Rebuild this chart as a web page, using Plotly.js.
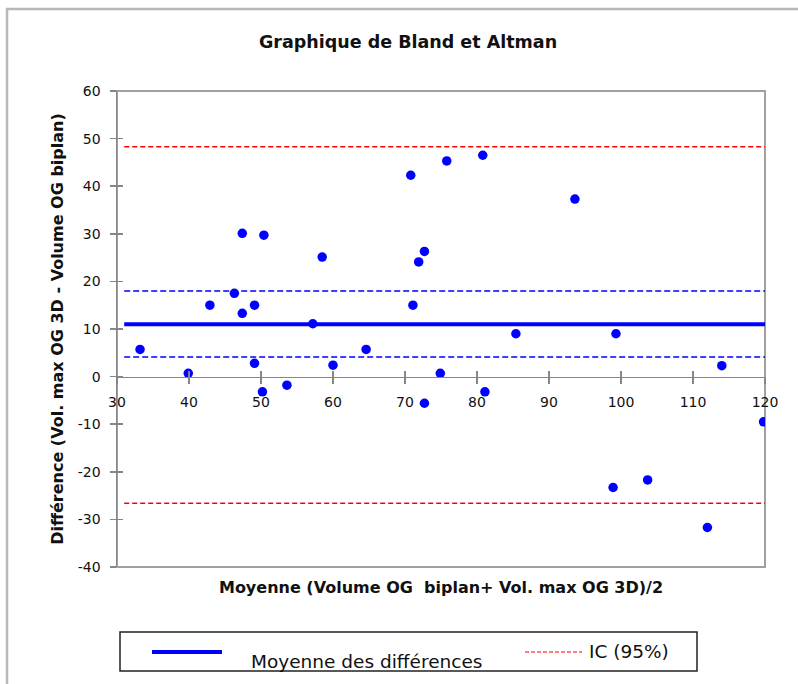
<!DOCTYPE html>
<html>
<head>
<meta charset="utf-8">
<script src="https://cdn.plot.ly/plotly-3.0.1.min.js"></script>
<style>html,body{margin:0;padding:0;background:#fff;}#chart{width:798px;height:684px;}</style>
</head>
<body>
<div id="chart"></div>
<script>
// ---- Data ----
const meanX = [33.2, 39.9, 42.9, 46.3, 47.4, 47.4, 49.1, 49.1, 50.4, 50.2, 53.6, 57.2, 58.5, 60.0, 64.6, 70.8,
               71.1, 71.9, 72.7, 72.7, 74.9, 75.8, 80.8, 81.1, 93.6, 85.4, 99.3, 114.0, 119.8, 98.9, 103.7, 112.0];
const diffY = [5.7, 0.7, 15.0, 17.5, 30.1, 13.3, 15.0, 2.8, 29.7, -3.2, -1.8, 11.1, 25.1, 2.4, 5.7, 42.3,
               15.0, 24.1, 26.3, -5.6, 0.7, 45.3, 46.5, -3.2, 37.3, 9.0, 9.0, 2.3, -9.5, -23.3, -21.7, -31.7];
const lineX = [31, 120];
const meanDiff = 11.0;
const ciMeanLow = 4.1;
const ciMeanHigh = 18.0;
const icLow = -26.6;
const icHigh = 48.3;
const xTicks = [30, 40, 50, 60, 70, 80, 90, 100, 110, 120];
const yTicks = [-40, -30, -20, -10, 0, 10, 20, 30, 40, 50, 60];

const titleText = "Graphique de Bland et Altman";
const xTitle = "Moyenne (Volume OG  biplan+ Vol. max OG 3D)/2";
const yTitle = "Différence (Vol. max OG 3D - Volume OG biplan)";
const legendMean = "Moyenne des différences";
const legendIC = "IC (95%)";

// ---- Layout helpers ----
const W = 798, H = 684;
const M = {l: 117, r: 33, t: 91, b: 117};
const PW = W - M.l - M.r, PH = H - M.t - M.b;
const px = x => (x - M.l) / PW;
const py = y => (H - M.b - y) / PH;

const FONT = "DejaVu Sans";
const blue = "#0000ff", red = "#ff0000", axisGray = "#868686";

const traces = [
  {x: lineX, y: [icHigh, icHigh], mode: "lines", name: legendIC, showlegend: false,
   line: {color: red, width: 1.5, dash: "5px,3px"}, hoverinfo: "skip"},
  {x: lineX, y: [icLow, icLow], mode: "lines", name: legendIC, showlegend: false,
   line: {color: red, width: 1.5, dash: "5px,3px"}, hoverinfo: "skip"},
  {x: lineX, y: [ciMeanHigh, ciMeanHigh], mode: "lines", showlegend: false,
   line: {color: blue, width: 1.5, dash: "6px,3px"}, hoverinfo: "skip"},
  {x: lineX, y: [ciMeanLow, ciMeanLow], mode: "lines", showlegend: false,
   line: {color: blue, width: 1.5, dash: "6px,3px"}, hoverinfo: "skip"},
  {x: lineX, y: [meanDiff, meanDiff], mode: "lines", name: legendMean, showlegend: false,
   line: {color: blue, width: 4}, hoverinfo: "skip"},
  {x: meanX, y: diffY, mode: "markers", showlegend: false,
   marker: {color: blue, size: 9.5}},
  // dummy traces to materialise helper axes (cross ticks / bottom title)
  {x: [null], y: [null], xaxis: "x2", yaxis: "y", showlegend: false, hoverinfo: "skip"},
  {x: [null], y: [null], xaxis: "x3", yaxis: "y", showlegend: false, hoverinfo: "skip"},
  {x: [null], y: [null], xaxis: "x", yaxis: "y2", showlegend: false, hoverinfo: "skip"}
];

const tickFont = {family: FONT, size: 14, color: "#111"};
const xRange = [30, 120], yRange = [-40, 60];
const xZeroPos = (0 - yRange[0]) / (yRange[1] - yRange[0]);

const layout = {
  width: W, height: H,
  margin: M,
  paper_bgcolor: "#fff", plot_bgcolor: "#fff",
  showlegend: false,
  title: {text: titleText, font: {family: FONT, size: 17.5, weight: "bold", color: "#111"},
          x: 408 / W, xanchor: "center", xref: "container", y: 1 - 42 / H, yanchor: "middle", yref: "container"},
  xaxis: {range: xRange, tickvals: xTicks, ticktext: xTicks.map(String), anchor: "free", position: xZeroPos,
          showline: true, linecolor: axisGray, linewidth: 1.5, ticks: "outside", ticklen: 6, tickcolor: axisGray,
          tickwidth: 1.5, showgrid: false, zeroline: false, tickfont: tickFont, ticklabelstandoff: 6, fixedrange: true},
  xaxis2: {range: xRange, tickvals: xTicks, overlaying: "x", anchor: "free", position: xZeroPos,
           showline: false, ticks: "inside", ticklen: 6, tickcolor: axisGray, tickwidth: 1.5,
           showticklabels: false, showgrid: false, zeroline: false, fixedrange: true},
  xaxis3: {range: xRange, overlaying: "x", anchor: "y", side: "bottom", showline: false, ticks: "",
           showticklabels: false, showgrid: false, zeroline: false, fixedrange: true,
           title: {text: xTitle, font: {family: FONT, size: 16, weight: "bold", color: "#111"}, standoff: 14}},
  yaxis: {range: yRange, tickvals: yTicks, ticktext: yTicks.map(String), anchor: "x",
          showline: true, linecolor: axisGray, linewidth: 1.5, ticks: "outside", ticklen: 6, tickcolor: axisGray,
          tickwidth: 1.5, showgrid: false, zeroline: false, tickfont: tickFont, ticklabelstandoff: 6, fixedrange: true,
          title: {text: yTitle, font: {family: FONT, size: 16, weight: "bold", color: "#111"}, standoff: 10}},
  yaxis2: {range: yRange, tickvals: yTicks, overlaying: "y", anchor: "x", side: "left",
           showline: false, ticks: "inside", ticklen: 6, tickcolor: axisGray, tickwidth: 1.5,
           showticklabels: false, showgrid: false, zeroline: false, fixedrange: true},
  shapes: [
    // outer chart frame
    {type: "rect", xref: "paper", yref: "paper", x0: px(7), x1: px(830), y0: py(9), y1: py(720),
     line: {color: "#b8b8b8", width: 2.5}, fillcolor: "rgba(0,0,0,0)", layer: "below"},
    // plot area frame
    {type: "rect", xref: "paper", yref: "paper", x0: 0, x1: 1, y0: 0, y1: 1,
     line: {color: "#a0a0a0", width: 2}, fillcolor: "rgba(0,0,0,0)", layer: "below"},
    // legend box
    {type: "rect", xref: "paper", yref: "paper", x0: px(120), x1: px(697), y0: py(632), y1: py(671),
     line: {color: "#222", width: 1.5}, fillcolor: "#fff"},
    {type: "line", xref: "paper", yref: "paper", x0: px(152), x1: px(222), y0: py(652), y1: py(652),
     line: {color: blue, width: 4}},
    {type: "line", xref: "paper", yref: "paper", x0: px(525), x1: px(582), y0: py(652), y1: py(652),
     line: {color: red, width: 1.2, dash: "4px,2px"}}
  ],
  annotations: [
    {text: legendMean, xref: "paper", yref: "paper", x: px(249), y: py(661), xanchor: "left", yanchor: "middle",
     showarrow: false, font: {family: FONT, size: 18.5, color: "#111"}},
    {text: legendIC, xref: "paper", yref: "paper", x: px(587), y: py(651), xanchor: "left", yanchor: "middle",
     showarrow: false, font: {family: FONT, size: 18.5, color: "#111"}}
  ]
};

Plotly.newPlot("chart", traces, layout, {displayModeBar: false, staticPlot: true});
</script>
</body>
</html>
